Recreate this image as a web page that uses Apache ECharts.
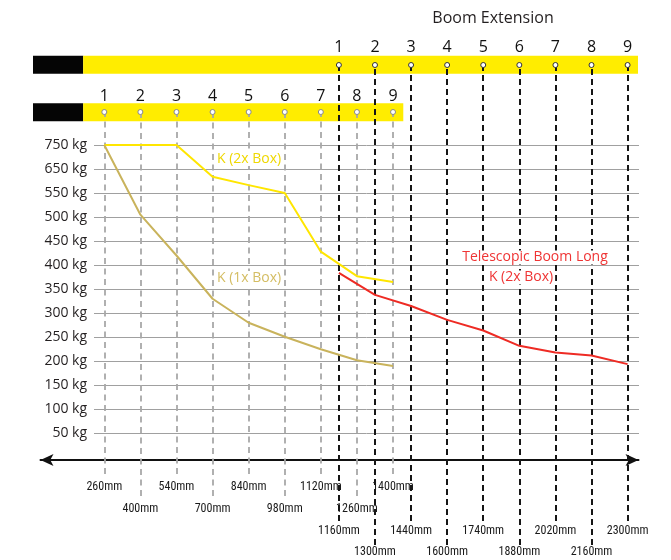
<!DOCTYPE html>
<html><head><meta charset="utf-8">
<script src="https://cdn.jsdelivr.net/npm/echarts@6/dist/echarts.min.js"></script>
<style>html,body{margin:0;padding:0;background:#fff}#c{width:671px;height:560px}</style>
</head><body><div id="c"></div><script>
// ---------------- data ----------------
const shortPositions = [260, 400, 540, 700, 840, 980, 1120, 1260, 1400];   // mm, short boom stages
const longPositions  = [1160, 1300, 1440, 1600, 1740, 1880, 2020, 2160, 2300]; // mm, long boom stages
const stageNumbers   = ['1', '2', '3', '4', '5', '6', '7', '8', '9'];
const k2xBox  = [750, 750, 750, 618, 583, 550, 428, 377, 365];   // kg
const k1xBox  = [750, 505, 420, 330, 280, 251, 225, 202, 190];   // kg
const teleLong = [384, 338, 315, 286, 264, 232, 218, 212, 194];  // kg
const yTickValues = [50, 100, 150, 200, 250, 300, 350, 400, 450, 500, 550, 650, 750];
const yTickLabels = ['50 kg', '100 kg', '150 kg', '200 kg', '250 kg', '300 kg', '350 kg', '400 kg', '450 kg', '500 kg', '550 kg', '650 kg', '750 kg'];
const boomRows = ['Long boom', 'Short boom'];
const boomBase = [1.39, 1.39];        // retracted section (in stage slots)
const boomExtension = [15.38, 8.87];  // extendable section (in stage slots)
const titleText = 'Boom Extension';
const seriesNames = ['K (2x Box)', 'K (1x Box)', 'Telescopic Boom Long', 'K (2x Box)'];

// ---------------- layout ----------------
const W = 671, H = 560;
const SLOT0 = 104.3, SLOT = 36.09, LONG_OFFSET = 6.5;
const PL = 94, PR = 32;
const pxToSlot = px => (px - SLOT0) / SLOT;
const XMIN = pxToSlot(PL), XMAX = pxToSlot(W - PR);
const FONT = "'Open Sans', 'Noto Sans', sans-serif";
const NARROW = "'Liberation Sans Narrow', 'Roboto Condensed', Roboto, sans-serif";

function kgToPos(v) {
  const t = yTickValues;
  for (let i = 0; i < t.length - 1; i++) {
    if (v <= t[i + 1]) return i + (v - t[i]) / (t[i + 1] - t[i]);
  }
  return t.length - 1;
}

const grids = [], xAxes = [], yAxes = [], series = [];

// grid 0: main plot
grids.push({ left: PL, right: PR, top: 145, bottom: H - 433.3 });
xAxes.push({ type: 'value', gridIndex: 0, min: XMIN, max: XMAX, show: false });
yAxes.push({
  type: 'value', gridIndex: 0, min: 0, max: yTickValues.length - 1, interval: 1,
  axisLine: { show: false }, axisTick: { show: false },
  axisLabel: { formatter: v => yTickLabels[Math.round(v)], fontSize: 14, fontFamily: FONT, color: '#231f20', margin: 7 },
  splitLine: { show: true, lineStyle: { color: '#a0a0a0', width: 1 } }
});

// grid 1: boom bars
grids.push({ left: 33, right: 33, top: 41, height: 95 });
xAxes.push({ type: 'value', gridIndex: 1, min: 0, max: (W - 66) / SLOT, show: false });
yAxes.push({ type: 'category', gridIndex: 1, data: boomRows, inverse: true, show: false });
series.push({ type: 'bar', name: 'base', xAxisIndex: 1, yAxisIndex: 1, stack: 'boom', barWidth: 18, z: 1, silent: true,
  data: boomBase, itemStyle: { color: '#050505' } });
series.push({ type: 'bar', name: 'extension', xAxisIndex: 1, yAxisIndex: 1, stack: 'boom', barWidth: 18, z: 1, silent: true,
  data: boomExtension, itemStyle: { color: '#FFED00' } });

// grids 2..5: stage reference lines
const groups = [
  { top: 112, bottom: H - 474, idx: [0, 2, 4, 6, 8], long: false, labelMargin: 6.5, numMargin: 8 },
  { top: 112, bottom: H - 496, idx: [1, 3, 5, 7], long: false, labelMargin: 7, numMargin: 8 },
  { top: 65, bottom: H - 521, idx: [0, 2, 4, 6, 8], long: true, labelMargin: 3.5, numMargin: 10 },
  { top: 65, bottom: H - 545, idx: [1, 3, 5, 7], long: true, labelMargin: 1.2, numMargin: 10 }
];
groups.forEach(g => {
  const gi = grids.length;
  grids.push({ left: PL, right: PR, top: g.top, bottom: g.bottom });
  const off = g.long ? LONG_OFFSET : 0;
  const pos = g.long ? longPositions : shortPositions;
  const vals = g.idx.map(i => i + off);
  const xb = xAxes.length;
  xAxes.push({
    type: 'value', gridIndex: gi, min: XMIN, max: XMAX, position: 'bottom',
    axisLine: { show: false }, axisTick: { show: false }, splitLine: { show: false },
    axisLabel: { customValues: vals, formatter: v => pos[Math.round(v - off)] + 'mm', margin: g.labelMargin,
      fontSize: 12, fontFamily: NARROW, color: '#1a1a1a' }
  });
  xAxes.push({
    type: 'value', gridIndex: gi, min: XMIN, max: XMAX, position: 'top',
    axisLine: { show: false }, axisTick: { show: false }, splitLine: { show: false },
    axisLabel: { customValues: vals, formatter: v => stageNumbers[Math.round(v - off)], margin: g.numMargin,
      fontSize: 16, fontFamily: FONT, color: '#111' }
  });
  const yi = yAxes.length;
  yAxes.push({ type: 'value', gridIndex: gi, min: 0, max: 1, show: false });
  series.push({
    type: 'lines', coordinateSystem: 'cartesian2d', xAxisIndex: xb, yAxisIndex: yi, silent: true, z: 3,
    polyline: false, symbol: 'none',
    lineStyle: g.long ? { color: '#161616', width: 2, type: [6, 4], opacity: 1 } : { color: '#a8a8a8', width: 1.8, type: [6, 4.5], opacity: 1 },
    data: vals.map(v => ({ coords: [[v, 0], [v, 1]] }))
  });
  series.push({
    type: 'scatter', xAxisIndex: xb, yAxisIndex: yi, silent: true, z: 4, symbol: 'circle', symbolSize: 5,
    itemStyle: { color: '#ffffff', borderColor: g.long ? '#333' : '#888', borderWidth: 1, opacity: 1 },
    data: vals.map(v => [v, 1])
  });
});

// arrow axis grid
const ga = grids.length;
grids.push({ left: 40.5, right: 32.5, top: 400, bottom: H - 460 });
xAxes.push({
  type: 'value', gridIndex: ga, min: 0, max: 1, position: 'bottom',
  axisLine: { show: true, symbol: ['arrow', 'arrow'], symbolSize: [9, 13], lineStyle: { color: '#111', width: 2 } },
  axisTick: { show: false }, axisLabel: { show: false }, splitLine: { show: false }
});
yAxes.push({ type: 'value', gridIndex: ga, show: false });

// data series
series.push({ type: 'line', name: seriesNames[0], xAxisIndex: 0, yAxisIndex: 0, symbol: 'none', z: 5,
  lineStyle: { color: '#FFE600', width: 2 }, data: shortPositions.map((_, i) => [i, kgToPos(k2xBox[i])]) });
series.push({ type: 'line', name: seriesNames[1], xAxisIndex: 0, yAxisIndex: 0, symbol: 'none', z: 5,
  lineStyle: { color: '#C9B35C', width: 2 }, data: shortPositions.map((_, i) => [i, kgToPos(k1xBox[i])]) });
series.push({ type: 'line', name: seriesNames[2] + ' ' + seriesNames[3], xAxisIndex: 0, yAxisIndex: 0, symbol: 'none', z: 5,
  lineStyle: { color: '#EE2B24', width: 2 }, data: longPositions.map((_, i) => [i + LONG_OFFSET, kgToPos(teleLong[i])]) });

const txt = (text, x, y, color, size, align) => ({
  type: 'text', x, y, z: 100, silent: true,
  style: { text, fill: color, fontSize: size, fontFamily: FONT, align: align || 'left', verticalAlign: 'middle',
    backgroundColor: '#fff', padding: [0, 2] }
});

const chart = echarts.init(document.getElementById('c'), null, { renderer: 'canvas' });
chart.setOption({
  animation: false,
  backgroundColor: '#fff',
  grid: grids, xAxis: xAxes, yAxis: yAxes, series,
  graphic: [
    txt(titleText, 493, 18.5, '#231f20', 16, 'center'),
    txt(seriesNames[0], 215, 159, '#EFD800', 14),
    txt(seriesNames[1], 215, 278, '#D4BD63', 14),
    txt(seriesNames[2], 535, 257.5, '#EF3434', 14, 'center'),
    txt(seriesNames[3], 521, 277.5, '#EF3434', 14, 'center')
  ]
});
</script></body></html>
